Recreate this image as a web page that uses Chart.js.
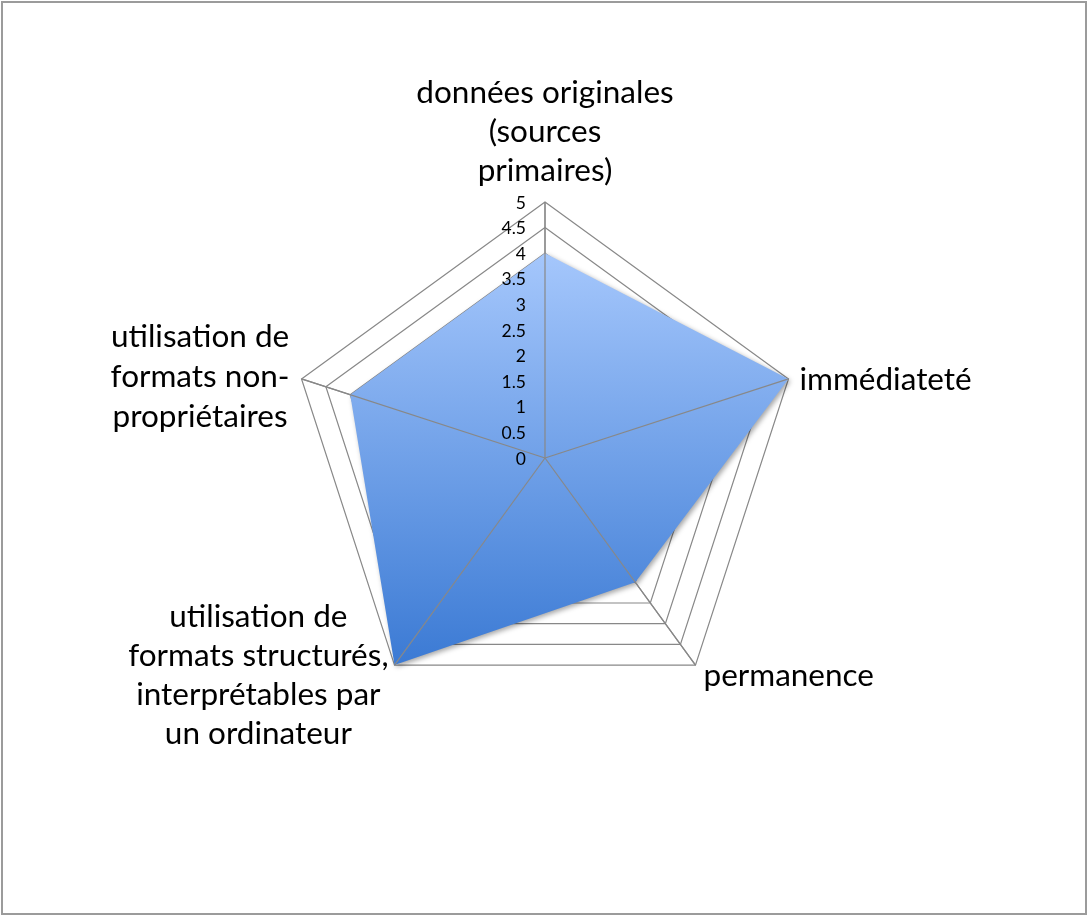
<!DOCTYPE html>
<html><head><meta charset="utf-8">
<script src="https://cdn.jsdelivr.net/npm/chart.js@4/dist/chart.umd.min.js"></script>
<style>html,body{margin:0;padding:0;background:#fff}#c{display:block}</style>
</head><body>
<canvas id="c" width="1090" height="917"></canvas>
<script>
const categories = [
  ["données originales", "(sources", "primaires)"],
  ["immédiateté"],
  ["permanence"],
  ["utilisation de", "formats structurés,", "interprétables par", "un ordinateur"],
  ["utilisation de", "formats non-", "propriétaires"]
];
const seriesValues = [4, 5, 3, 5, 4];
const tickLabels = ["0", "0.5", "1", "1.5", "2", "2.5", "3", "3.5", "4", "4.5", "5"];

const GRID = '#888888';
const LABEL_FONT = '31.5px Lato';
const TICK_FONT = '17.5px Lato';

function fillGradient(context) {
  const chart = context.chart;
  const scale = chart.scales && chart.scales.r;
  if (!chart.chartArea || !scale) return '#6f9fe6';
  let minY = Infinity, maxY = -Infinity;
  seriesValues.forEach((v, i) => {
    const p = scale.getPointPositionForValue(i, v);
    minY = Math.min(minY, p.y); maxY = Math.max(maxY, p.y);
  });
  const g = chart.ctx.createLinearGradient(0, minY, 0, maxY);
  g.addColorStop(0, '#a5c7fc');
  g.addColorStop(1, '#3b7ad4');
  return g;
}

const decor = {
  id: 'decor',
  beforeDatasetsDraw(chart) {
    const ctx = chart.ctx;
    ctx.save();
    ctx.shadowColor = 'rgba(0,0,0,0.35)';
    ctx.shadowBlur = 5;
    ctx.shadowOffsetX = 2;
    ctx.shadowOffsetY = 2;
  },
  afterDatasetsDraw(chart) {
    const ctx = chart.ctx;
    ctx.restore();
    const s = chart.scales.r;
    // angle lines on top of the fill
    ctx.save();
    ctx.strokeStyle = GRID;
    ctx.lineWidth = 1.2;
    for (let i = 0; i < categories.length; i++) {
      const p = s.getPointPositionForValue(i, s.max);
      ctx.beginPath();
      ctx.moveTo(s.xCenter, s.yCenter);
      ctx.lineTo(p.x, p.y);
      ctx.stroke();
    }
    // tick labels
    ctx.fillStyle = '#000';
    ctx.font = TICK_FONT;
    ctx.textAlign = 'right';
    ctx.textBaseline = 'middle';
    tickLabels.forEach(t => {
      const y = s.yCenter - s.getDistanceFromCenterForValue(parseFloat(t));
      ctx.fillText(t, s.xCenter - 19, y + 1);
    });
    // point labels
    ctx.font = LABEL_FONT;
    ctx.textBaseline = 'alphabetic';
    ctx.textAlign = 'center';
    categories.forEach((lines, i) => {
      const v = s.getPointPositionForValue(i, s.max);
      const wmax = Math.max(...lines.map(l => ctx.measureText(l).width));
      let cx, y0, lh = 39;
      if (i === 0) { cx = v.x; y0 = v.y - 21 - (lines.length - 1) * lh; }
      else if (i === 1) { cx = v.x + 11 + wmax / 2; y0 = v.y + 11; }
      else if (i === 2) { cx = v.x + 8 + wmax / 2; y0 = v.y + 21; }
      else if (i === 3) { cx = v.x - 6 - wmax / 2; y0 = v.y - 38; }
      else { lh = 40; cx = v.x - 12 - wmax / 2; y0 = v.y - 32; }
      lines.forEach((l, k) => ctx.fillText(l, cx, y0 + k * lh));
    });
    ctx.restore();
  },
  afterDraw(chart) {
    const ctx = chart.ctx;
    ctx.save();
    ctx.strokeStyle = '#9b9b9b';
    ctx.lineWidth = 2;
    ctx.strokeRect(2, 2, 1084, 912);
    ctx.restore();
  }
};

new Chart(document.getElementById('c'), {
  type: 'radar',
  data: {
    labels: categories,
    datasets: [{
      label: 'Série 1',
      data: seriesValues,
      fill: true,
      backgroundColor: fillGradient,
      borderWidth: 0,
      borderColor: 'rgba(0,0,0,0)',
      pointRadius: 0,
      pointHoverRadius: 0
    }]
  },
  options: {
    responsive: false,
    animation: false,
    devicePixelRatio: 1,
    layout: { padding: { left: 289, right: 289, top: 202, bottom: 203 } },
    plugins: { legend: { display: false }, tooltip: { enabled: false } },
    scales: {
      r: {
        min: 0,
        max: 5,
        ticks: { display: false, stepSize: 0.5 },
        pointLabels: { display: false },
        grid: { color: GRID, lineWidth: 1.2 },
        angleLines: { display: true, color: GRID, lineWidth: 1.2 }
      }
    }
  },
  plugins: [decor]
});
</script>
</body></html>
